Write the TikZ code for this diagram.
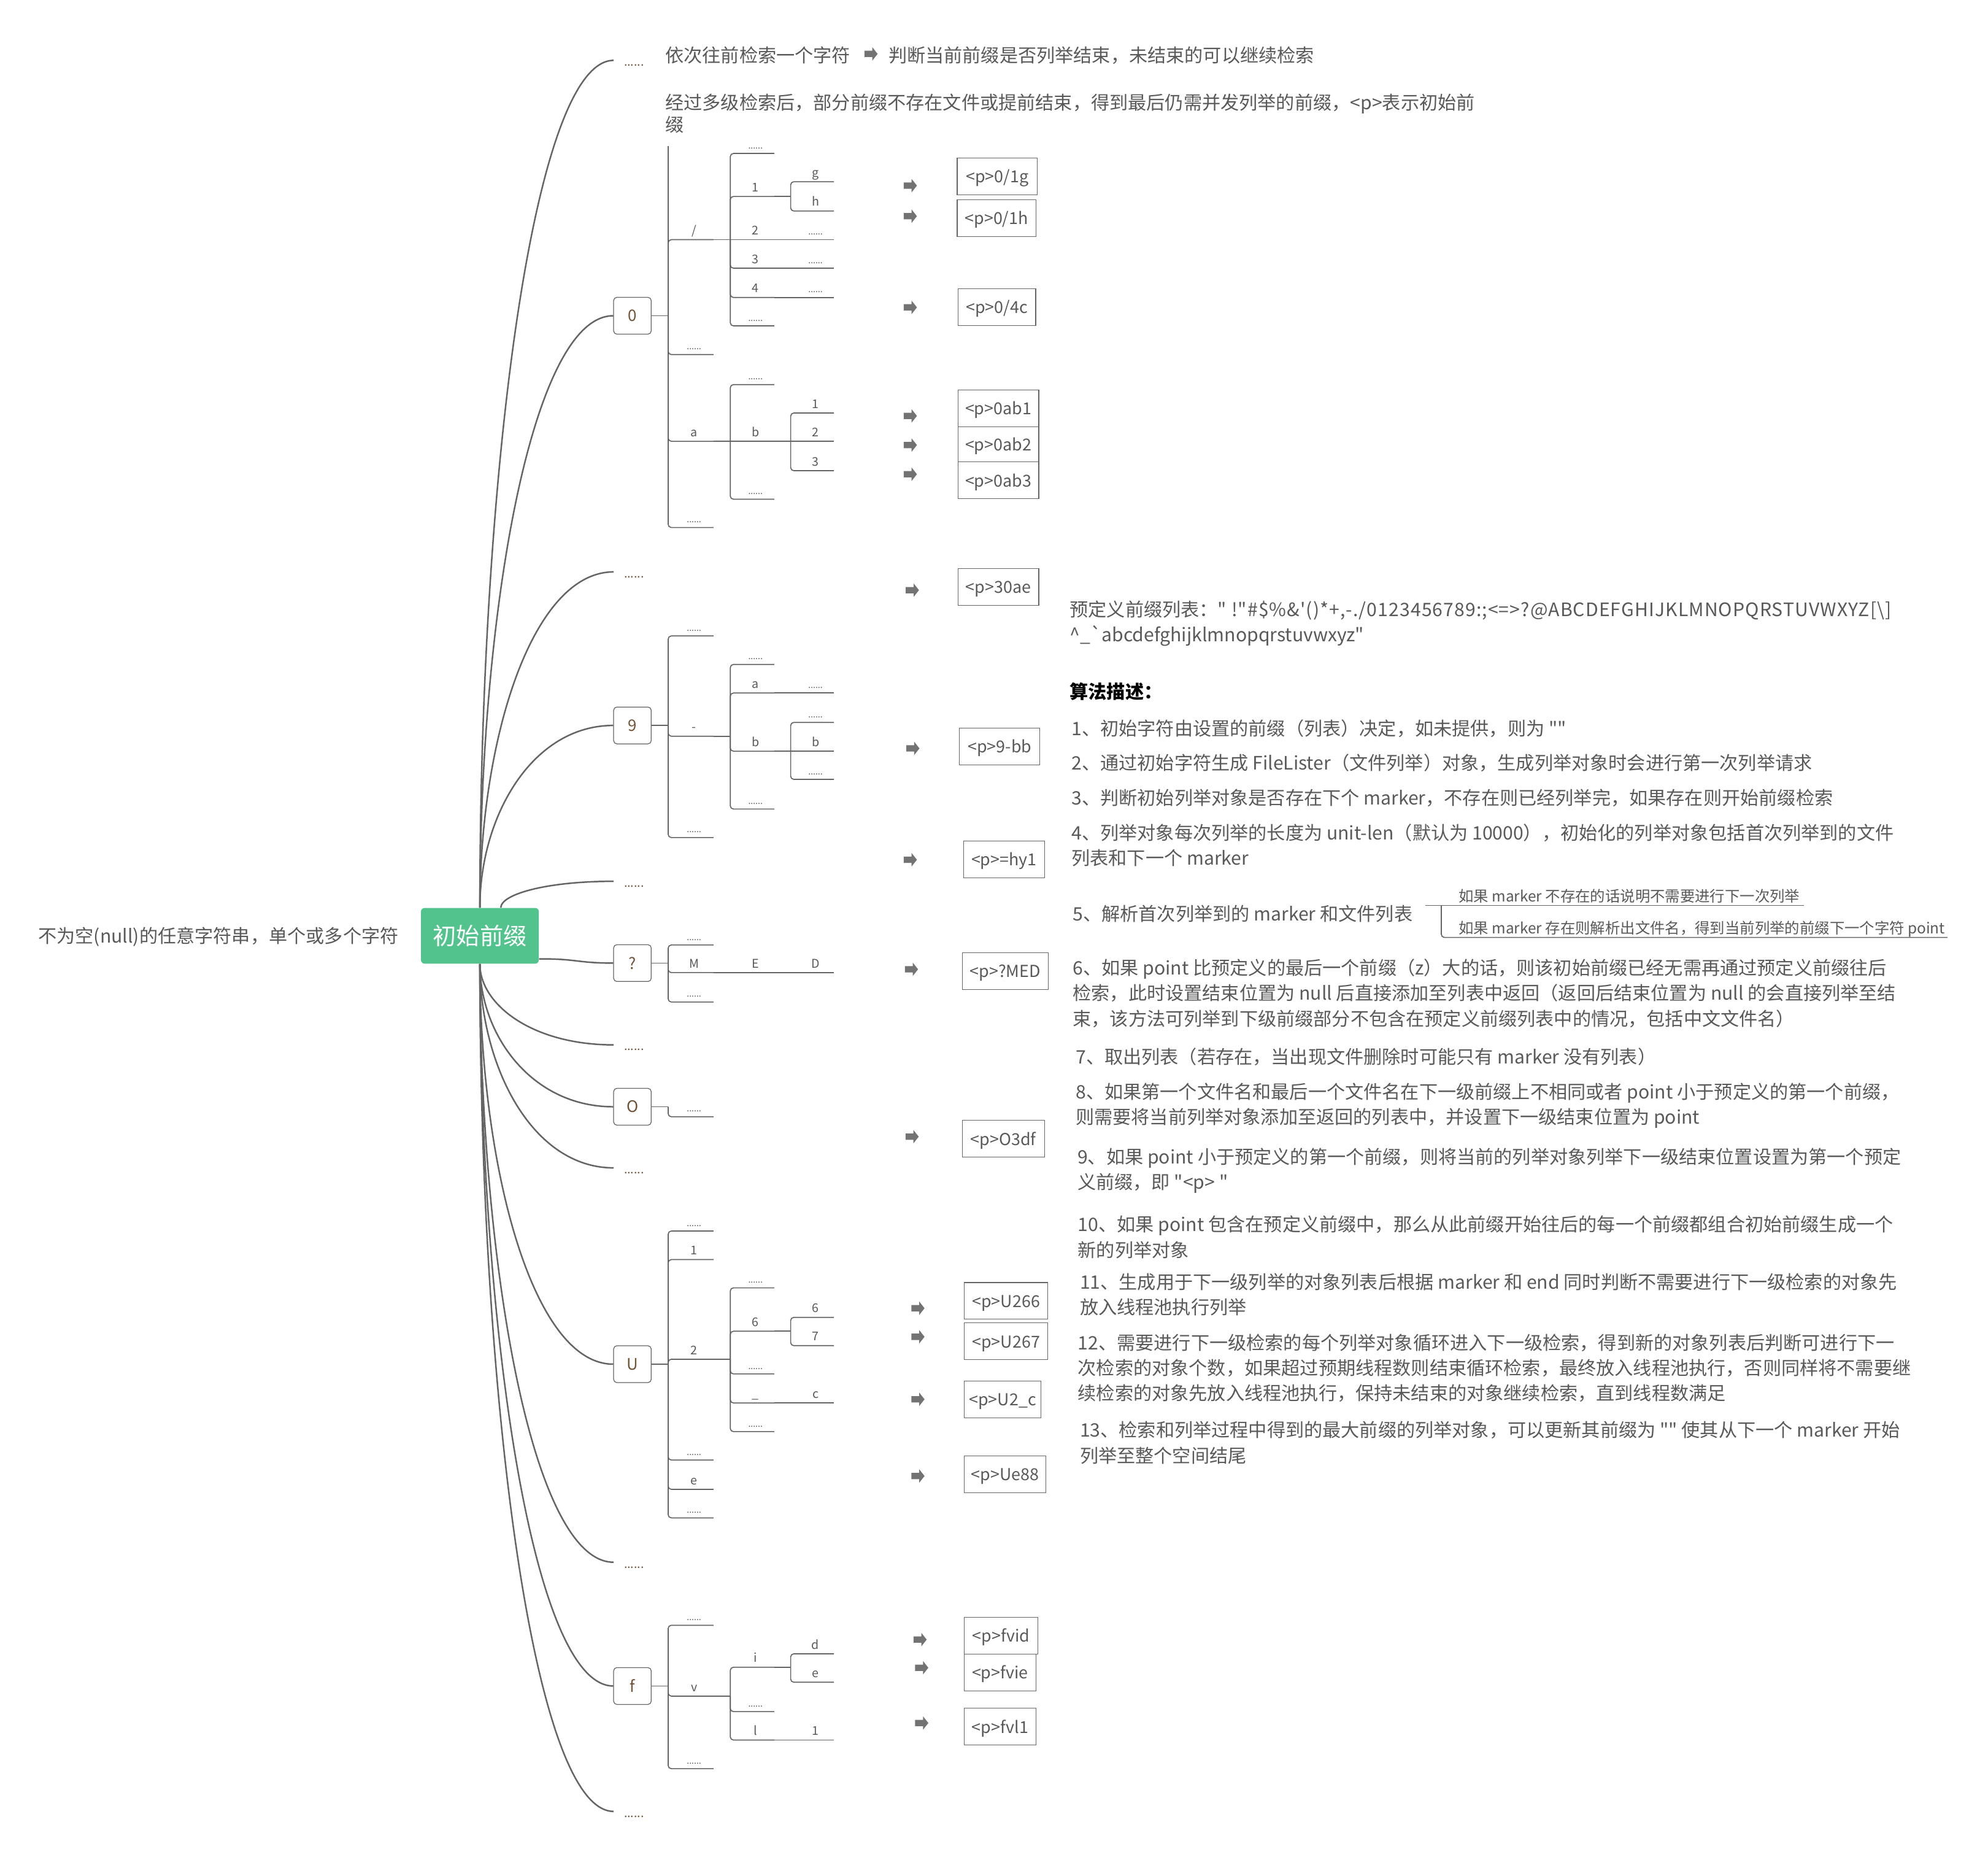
\documentclass[tikz,border=0pt]{standalone}
\usepackage{fontspec}
\newfontfamily\mmfont{Noto Sans CJK SC}

\definecolor{mmline}{RGB}{100,100,100}
\definecolor{mmtext}{RGB}{89,89,89}
\definecolor{mmbrown}{RGB}{112,84,56}
\definecolor{mmgreen}{RGB}{82,195,140}
\definecolor{mmarrow}{RGB}{115,115,115}

% small ellipsis used on the branch lines
\newcommand\mmdots{{\fontsize{6.8}{6.8}\selectfont ......}}
\newcommand\mmsl{/}

\tikzset{
  every node/.style={font=\mmfont},
  trunk/.style={draw=mmline, line width=1.2pt},
  subline/.style={draw=mmline, line width=0.8pt},
  topic/.style={draw=mmline, line width=0.6pt, fill=white, rounded corners=2.5pt,
    minimum width=29.6pt, minimum height=29pt, inner sep=0pt, text=mmbrown,
    font={\mmfont\fontsize{12.5}{12.5}\selectfont}},
  result/.style={draw=mmline, line width=0.6pt, fill=white, minimum height=29pt,
    inner sep=0pt, text height=12pt, text depth=2pt, text=mmtext,
    font={\mmfont\fontsize{13}{13}\selectfont}},
  lbl/.style={anchor=base, inner sep=0pt, text=mmtext,
    font={\mmfont\fontsize{9.5}{9.5}\selectfont}},
  para/.style={anchor=west, inner sep=0pt, align=left, text=mmtext,
    font={\mmfont\fontsize{14.6}{20}\selectfont}},
  small/.style={anchor=base west, inner sep=0pt, text=mmtext,
    font={\mmfont\fontsize{11.8}{11.8}\selectfont}},
  topdots/.style={anchor=base west, inner sep=0pt, text=mmbrown,
    font={\mmfont\fontsize{9.5}{9.5}\selectfont}},
  blockarrow/.pic={\fill[mmarrow] (-5.2,-2.5) -- (1,-2.5) -- (1,-5.3) -- (5.2,0)
    -- (1,5.3) -- (1,2.5) -- (-5.2,2.5) -- cycle;},
}

% #1 start of the parent line, #2 parent y, #3 spine x, #4 end x of the children,
% #5 list of child-y/label
\newcommand{\mmspine}[5]{%
  \draw[subline] (#1) -- (#3,#2);
  \foreach \cy/\lab in {#5}{%
    \ifdim\cy pt=#2pt\relax
      \draw[subline] (#3,#2) -- (#4,\cy);
    \else
      \draw[subline, rounded corners=2.5pt] (#3,#2) |- (#4,\cy);
    \fi
    \node[lbl] at ({(#3+#4)/2+2.5},{\cy-3.8}) {\lab};
  }%
}

\begin{document}
\begin{tikzpicture}[x=1pt,y=-1pt]
\fill[white] (0,0) rectangle (1568,1473);
\useasboundingbox (0,0) rectangle (1568,1473);

% ---------- central topic ----------
\node[fill=mmgreen, rounded corners=3pt, minimum width=93pt, minimum height=44pt,
  inner sep=0pt, text=white, font={\mmfont\fontsize{18.5}{18.5}\selectfont}]
  (root) at (378.5,738) {初始前缀};
\node[para] (lefttext) at (30,739) {不为空(null)的任意字符串，单个或多个字符};

% ---------- first-level topics ----------
\coordinate (t1) at (484,47.6);
\coordinate (t3) at (484,451);
\coordinate (t5) at (484,695);
\coordinate (t7) at (484,824);
\coordinate (t9) at (484,921);
\coordinate (t11) at (484,1232);
\coordinate (t13) at (484,1428.5);
\node[topdots] (t1d) at (492,52) {......};
\node[topdots] (t3d) at (492,455.5) {......};
\node[topdots] (t5d) at (492,699.5) {......};
\node[topdots] (t7d) at (492,828.5) {......};
\node[topdots] (t9d) at (492,925.5) {......};
\node[topdots] (t11d) at (492,1236.5) {......};
\node[topdots] (t13d) at (492,1433) {......};

\node[topic] (box0) at (498.8,249) {0};
\node[topic] (box9) at (498.8,572.1) {9};
\node[topic] (boxq) at (498.8,759.5) {?};
\node[topic] (boxo) at (498.8,872.8) {O};
\node[topic] (boxu) at (498.8,1075.8) {U};
\node[topic] (boxf) at (498.8,1329.6) {f};

% ---------- curved branches from the centre ----------
\draw[trunk] (root.north) .. controls (378.5,381.8) and (419.5,47.6) .. (t1);
\draw[trunk] (root.north) .. controls (378.5,482.5) and (419.5,249) .. (box0.west);
\draw[trunk] (root.north) .. controls (378.5,583.5) and (419.5,451) .. (t3);
\draw[trunk] (root.north) .. controls (378.5,644) and (419.5,572.1) .. (box9.west);
\draw[trunk] ([xshift=16.5pt]root.north) .. controls (395,705.5) and (429.7,695) .. (t5);
\draw[trunk] ([yshift=4pt]root.south east) .. controls (455,756) and (455,759.5) .. (boxq.west);
\draw[trunk] (root.south) .. controls (378.5,792) and (419.5,824) .. (t7);
\draw[trunk] (root.south) .. controls (378.5,816.4) and (419.5,872.8) .. (boxo.west);
\draw[trunk] (root.south) .. controls (378.5,840.5) and (419.5,921) .. (t9);
\draw[trunk] (root.south) .. controls (378.5,917.9) and (419.5,1075.8) .. (boxu.west);
\draw[trunk] (root.south) .. controls (378.5,996) and (419.5,1232) .. (t11);
\draw[trunk] (root.south) .. controls (378.5,1044.8) and (419.5,1329.6) .. (boxf.west);
\draw[trunk] (root.south) .. controls (378.5,1094.2) and (419.5,1428.5) .. (t13);

% ---------- sub-tree of 0 ----------
\coordinate (n0top) at (527,115);
\draw[subline] (527,249) -- (n0top);
\mmspine{box0.east}{249}{527}{562.8}{189/\mmsl, 279.6/\mmdots, 348/a, 416/\mmdots}
\mmspine{562.8,189}{189}{576}{610.7}{121/\mmdots, 154.9/1, 189/2, 211.5/3, 234.6/4, 257/\mmdots}
\mmspine{610.7,154.9}{154.9}{623.6}{657.8}{143.3/g, 166.4/h}
\mmspine{610.7,189}{189}{623.6}{657.8}{189/\mmdots}
\mmspine{610.7,211.5}{211.5}{623.6}{657.8}{211.5/\mmdots}
\mmspine{610.7,234.6}{234.6}{623.6}{657.8}{234.6/\mmdots}
\mmspine{562.8,348}{348}{576}{610.7}{303.3/\mmdots, 348/b, 393.7/\mmdots}
\mmspine{610.7,348}{348}{623.6}{657.8}{325.7/1, 348/2, 371.2/3}

% ---------- sub-tree of 9 ----------
\mmspine{box9.east}{572.1}{527}{562.8}{501.5/\mmdots, 580.6/-, 660.5/\mmdots}
\mmspine{562.8,580.6}{580.6}{576}{610.7}{524/\mmdots, 546.5/a, 592.4/b, 638/\mmdots}
\mmspine{610.7,546.5}{546.5}{623.6}{657.8}{546.5/\mmdots}
\mmspine{610.7,592.4}{592.4}{623.6}{657.8}{569.7/\mmdots, 592.4/b, 614.6/\mmdots}

% ---------- sub-tree of ? ----------
\mmspine{boxq.east}{759.5}{527}{562.8}{745.2/\mmdots, 767/M, 790.2/\mmdots}
\mmspine{562.8,767}{767}{576}{610.7}{767/E}
\mmspine{610.7,767}{767}{623.6}{657.8}{767/D}

% ---------- sub-tree of O ----------
\mmspine{boxo.east}{872.8}{527}{562.8}{880.7/\mmdots}

% ---------- sub-tree of U ----------
\mmspine{boxu.east}{1075.8}{527}{562.8}{970.8/\mmdots, 993.3/1, 1071.9/2, 1151.4/\mmdots, 1174.5/e, 1197/\mmdots}
\mmspine{562.8,1071.9}{1071.9}{576}{610.7}{1015.6/\mmdots, 1049.8/6, 1083.5/\mmdots, 1106.4/\_, 1129/\mmdots}
\mmspine{610.7,1049.8}{1049.8}{623.6}{657.8}{1038.9/6, 1061.2/7}
\mmspine{610.7,1106.4}{1106.4}{623.6}{657.8}{1106.4/c}

% ---------- sub-tree of f ----------
\mmspine{boxf.east}{1329.6}{527}{562.8}{1281.7/\mmdots, 1337.6/v, 1394.8/\mmdots}
\mmspine{562.8,1337.6}{1337.6}{576}{610.7}{1314.8/i, 1349.8/\mmdots, 1372.2/l}
\mmspine{610.7,1314.8}{1314.8}{623.6}{657.8}{1304.2/d, 1326.6/e}
\mmspine{610.7,1372.2}{1372.2}{623.6}{657.8}{1372.2/1}

% ---------- resulting prefixes ----------
\node[result, minimum width=63pt]   (r01g)  at (786.5,139.1) {<p>0/1g};
\node[result, minimum width=62pt]   (r01h)  at (786,172)     {<p>0/1h};
\node[result, minimum width=61.3pt] (r04c)  at (786.2,242.2) {<p>0/4c};
\node[result, minimum width=63.8pt] (r0ab1) at (787.4,322.1) {<p>0ab1};
\node[result, minimum width=63.8pt, minimum height=28pt] (r0ab2) at (787.4,350.5) {<p>0ab2};
\node[result, minimum width=63.8pt] (r0ab3) at (787.4,378.8) {<p>0ab3};
\node[result, minimum width=63.8pt] (r30ae) at (787.4,462.8) {<p>30ae};
\node[result, minimum width=63.4pt] (r9bb)  at (788.5,588.7) {<p>9-bb};
\node[result, minimum width=63.8pt] (rhy1)  at (791.9,677.7) {<p>=hy1};
\node[result, minimum width=67.7pt] (rmed)  at (792.8,765.8) {<p>?MED};
\node[result, minimum width=64.8pt] (ro3df) at (791.4,898.1) {<p>O3df};
\node[result, minimum width=65.8pt] (ru266) at (793.5,1025.9) {<p>U266};
\node[result, minimum width=65.8pt] (ru267) at (793.5,1057.8) {<p>U267};
\node[result, minimum width=60.4pt] (ru2c)  at (790.8,1103.5) {<p>U2\_c};
\node[result, minimum width=64.4pt] (rue88) at (792.8,1162.6) {<p>Ue88};
\node[result, minimum width=57.9pt] (rfvid) at (789.5,1290) {<p>fvid};
\node[result, minimum width=56.4pt] (rfvie) at (788.8,1319) {<p>fvie};
\node[result, minimum width=56.4pt] (rfvl1) at (788.8,1361.7) {<p>fvl1};

\pic at (718,146.4) {blockarrow};
\pic at (718,170.5) {blockarrow};
\pic at (718,242.4) {blockarrow};
\pic at (718,328) {blockarrow};
\pic at (718,351) {blockarrow};
\pic at (718,374) {blockarrow};
\pic at (719.6,465.4) {blockarrow};
\pic at (720,590.2) {blockarrow};
\pic at (718,678) {blockarrow};
\pic at (718.9,764.4) {blockarrow};
\pic at (719.4,896.4) {blockarrow};
\pic at (724,1031.7) {blockarrow};
\pic at (724,1054.2) {blockarrow};
\pic at (724,1103.5) {blockarrow};
\pic at (724,1164) {blockarrow};
\pic at (725.7,1293) {blockarrow};
\pic at (727,1315.2) {blockarrow};
\pic at (727,1358.8) {blockarrow};

% ---------- notes at the top ----------
\node[para] (n1a) at (524.6,43.6) {依次往前检索一个字符};
\pic at (687,42.5) {blockarrow};
\node[para] (n1b) at (700.6,43.6) {判断当前前缀是否列举结束，未结束的可以继续检索};
\node[para, font={\mmfont\fontsize{14.6}{17.7}\selectfont}] (n2) at (524.6,89.5)
  {经过多级检索后，部分前缀不存在文件或提前结束，得到最后仍需并发列举的前缀，<p>表示初始前\\缀};

% ---------- algorithm description ----------
\node[para] (plist) at (843.6,491.8)
  {预定义前缀列表：{\addfontfeatures{LetterSpace=3.6}" !"\#\$\%\&'()*+,-./0123456789:;<=>?@ABCDEFGHIJKLMNOPQRSTUVWXYZ[\textbackslash]}\\\textasciicircum\_`abcdefghijklmnopqrstuvwxyz"};
\node[para, text=black, font={\mmfont\bfseries\fontsize{14.6}{20}\selectfont}] (algo) at (843.6,545.3) {算法描述：};
\node[para] (s1) at (845,574.3) {1、初始字符由设置的前缀（列表）决定，如未提供，则为 ""};
\node[para] (s2) at (845,601.8) {2、通过初始字符生成 FileLister（文件列举）对象，生成列举对象时会进行第一次列举请求};
\node[para] (s3) at (845,629.2) {3、判断初始列举对象是否存在下个 marker，不存在则已经列举完，如果存在则开始前缀检索};
\node[para] (s4) at (845,666.6) {4、列举对象每次列举的长度为 unit-len（默认为 10000），初始化的列举对象包括首次列举到的文件\\列表和下一个 marker};
\node[para] (s5) at (846,720.4) {5、解析首次列举到的 marker 和文件列表};
\node[small] (s5a) at (1150.3,711.2) {如果 marker 不存在的话说明不需要进行下一次列举};
\node[small] (s5b) at (1150.3,736.3) {如果 marker 存在则解析出文件名，得到当前列举的前缀下一个字符 point};
\draw[subline] (1124,714) -- (1422.6,714);
\draw[subline, rounded corners=2.5pt] (1136.8,714) |- (1536,739.3);
\node[para] (s6) at (846,783.3) {6、如果 point 比预定义的最后一个前缀（z）大的话，则该初始前缀已经无需再通过预定义前缀往后\\检索，此时设置结束位置为 null 后直接添加至列表中返回（返回后结束位置为 null 的会直接列举至结\\束，该方法可列举到下级前缀部分不包含在预定义前缀列表中的情况，包括中文文件名）};
\node[para] (s7) at (848.3,833.3) {7、取出列表（若存在，当出现文件删除时可能只有 marker 没有列表）};
\node[para] (s8) at (848.3,872) {8、如果第一个文件名和最后一个文件名在下一级前缀上不相同或者 point 小于预定义的第一个前缀，\\则需要将当前列举对象添加至返回的列表中，并设置下一级结束位置为 point};
\node[para] (s9) at (849.7,923.2) {9、如果 point 小于预定义的第一个前缀，则将当前的列举对象列举下一级结束位置设置为第一个预定\\义前缀，即 "<p> "};
\node[para] (s10) at (850,975.6) {10、如果 point 包含在预定义前缀中，那么从此前缀开始往后的每一个前缀都组合初始前缀生成一个\\新的列举对象};
\node[para] (s11) at (851.6,1021) {11、生成用于下一级列举的对象列表后根据 marker 和 end 同时判断不需要进行下一级检索的对象先\\放入线程池执行列举};
\node[para] (s12) at (850,1078.8) {12、需要进行下一级检索的每个列举对象循环进入下一级检索，得到新的对象列表后判断可进行下一\\次检索的对象个数，如果超过预期线程数则结束循环检索，最终放入线程池执行，否则同样将不需要继\\续检索的对象先放入线程池执行，保持未结束的对象继续检索，直到线程数满足};
\node[para] (s13) at (851.6,1137.8) {13、检索和列举过程中得到的最大前缀的列举对象，可以更新其前缀为 "" 使其从下一个 marker 开始\\列举至整个空间结尾};
\end{tikzpicture}
\end{document}
